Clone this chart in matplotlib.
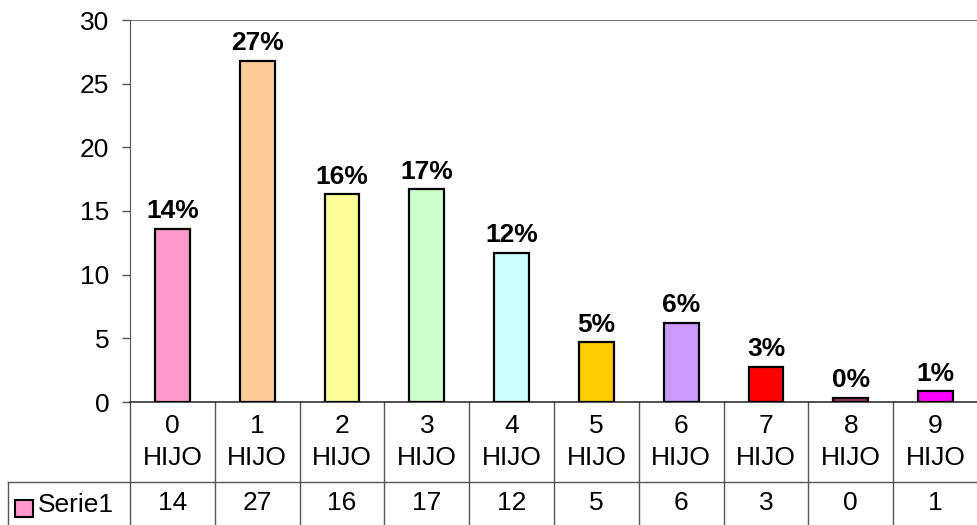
import matplotlib
matplotlib.use("Agg")
import matplotlib.pyplot as plt
import numpy as np

# data
categories = ["0\nHIJO", "1\nHIJO", "2\nHIJO", "3\nHIJO", "4\nHIJO",
              "5\nHIJO", "6\nHIJO", "7\nHIJO", "8\nHIJO", "9\nHIJO"]
values = [13.6, 26.8, 16.3, 16.7, 11.7, 4.7, 6.2, 2.75, 0.35, 0.85]
pct_labels = ["14%", "27%", "16%", "17%", "12%", "5%", "6%", "3%", "0%", "1%"]
table_values = ["14", "27", "16", "17", "12", "5", "6", "3", "0", "1"]
series_name = "Serie1"
colors = ["#FF99CC", "#FFCC99", "#FFFF99", "#CCFFCC", "#CCFFFF",
          "#FFCC00", "#CC99FF", "#FF0000", "#993366", "#FF00FF"]

plt.rcParams['font.family'] = ['Liberation Sans', 'DejaVu Sans']
FS = 19

W, H = 978, 525
fig = plt.figure(figsize=(W / 100, H / 100), dpi=100)
left, right, top, bottom = 130, 978, 20, 402
ax = fig.add_axes([left / W, 1 - bottom / H, (right - left) / W, (bottom - top) / H])

x = np.arange(len(values))
ax.bar(x, values, width=0.41, color=colors, edgecolor="black", linewidth=1.6, zorder=3)
for xi, v, lab in zip(x, values, pct_labels):
    ax.annotate(lab, (xi, v), xytext=(0, 4), textcoords="offset points",
                ha="center", va="bottom", fontsize=FS, fontweight="bold")

ax.set_xlim(-0.5, len(values) - 0.5)
ax.set_ylim(0, 30)
ax.set_yticks(range(0, 31, 5))
ax.tick_params(axis="y", labelsize=FS, length=6, width=1, color="#555555", pad=9)
ax.set_xticks([])
for s in ["top", "right"]:
    ax.spines[s].set_visible(False)
ax.spines["left"].set_color("#555555")
ax.spines["bottom"].set_color("#333333")
ax.spines["bottom"].set_linewidth(1.2)
ax.axhline(30, color="#777777", linewidth=1.5, zorder=1)

# data table below the axis
ph = bottom - top
cat_w = (right - left) / len(values)
row1 = -(482 - bottom) / ph
row2 = -(525 - bottom) / ph
tr = ax.get_xaxis_transform()
line_kw = dict(color="#555555", linewidth=1, transform=tr, clip_on=False)
for b in np.arange(len(values) + 1) - 0.5:
    ax.plot([b, b], [0, row2], **line_kw)
x_lead = (8 - left) / cat_w - 0.5
ax.plot([x_lead, len(values) - 0.5], [row1, row1], **line_kw)
ax.plot([x_lead, x_lead], [row1, row2], **line_kw)

for xi, cat, tv in zip(x, categories, table_values):
    ax.text(xi, row1 / 2, cat, transform=tr, ha="center", va="center",
            fontsize=FS, linespacing=1.4)
    ax.text(xi, (row1 + row2) / 2, tv, transform=tr, ha="center", va="center",
            fontsize=FS)

# legend key in the table
fig.patches.append(plt.Rectangle((15 / W, 1 - 517 / H), 18 / W, 17 / H,
                                 transform=fig.transFigure, facecolor=colors[0],
                                 edgecolor="black", linewidth=1.5))
fig.text(38 / W, 1 - 505 / H, series_name, ha="left", va="center", fontsize=FS)

fig.savefig("out.png", dpi=100)
